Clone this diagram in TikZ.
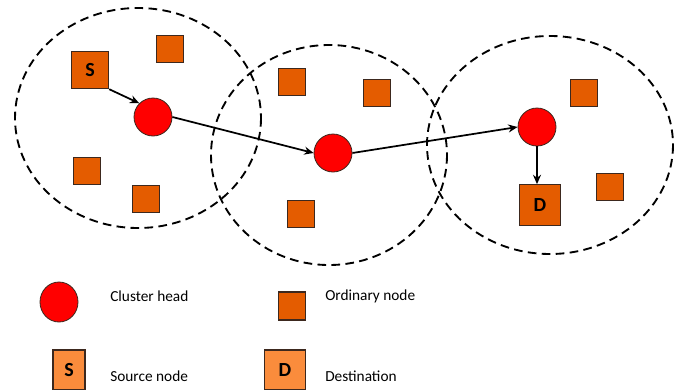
\documentclass[tikz,border=0pt]{standalone}
\usepackage{fontspec}
\setmainfont{Carlito}
\usetikzlibrary{arrows.meta,shapes.geometric}
\definecolor{ordcol}{RGB}{228,92,0}
\definecolor{legcol}{RGB}{250,140,60}
\definecolor{headcol}{RGB}{255,0,0}
\definecolor{edgecol}{RGB}{60,40,30}
\tikzset{
  cluster/.style={draw=black, line width=1.4pt, dash pattern=on 6.5pt off 4pt},
  head/.style={circle, draw=edgecol, line width=0.6pt, fill=headcol, minimum size=28.5pt, inner sep=0pt},
  ordnode/.style={rectangle, draw=edgecol, line width=0.8pt, fill=ordcol, minimum size=20pt, inner sep=0pt},
  endnode/.style={rectangle, draw=edgecol, line width=0.8pt, fill=ordcol, minimum size=28pt, inner sep=0pt, font=\fontsize{15}{15}\selectfont\bfseries},
  legend/.style={rectangle, draw=edgecol, line width=0.8pt, fill=legcol, inner sep=0pt, font=\fontsize{15}{15}\selectfont\bfseries},
  lbl/.style={anchor=west, inner sep=0pt, font=\fontsize{11.5}{13}\selectfont},
  flow/.style={draw=black, line width=1.3pt, -{Stealth[length=7pt,width=6pt]}}
}
\begin{document}
\begin{tikzpicture}[x=0.75pt,y=-0.75pt]
\useasboundingbox (0,0) rectangle (680,389);
% clusters
\draw[cluster] (138,118) ellipse [x radius=123, y radius=110];
\draw[cluster] (329,155) ellipse [x radius=118, y radius=110];
\draw[cluster] (550,145) ellipse [x radius=123, y radius=109];
% cluster heads
\node[head] (ch1) at (153,117) {};
\node[head] (ch2) at (333,153) {};
\node[head] (ch3) at (537,127) {};
% ordinary nodes
\node[ordnode] (o1) at (170,49) {};
\node[ordnode] (o2) at (87,171) {};
\node[ordnode] (o3) at (146,199) {};
\node[ordnode] (o4) at (292,82) {};
\node[ordnode] (o5) at (377,93) {};
\node[ordnode] (o6) at (301,214) {};
\node[ordnode] (o7) at (584,93) {};
\node[ordnode] (o8) at (610,187) {};
% source and destination
\node[endnode] (s) at (90,70) {S};
\node[endnode, minimum width=31pt, minimum height=30.5pt] (d) at (540,205) {D};
% flow
\draw[flow] (s.south east) -- (ch1.135);
\draw[flow] (ch1.east) -- (ch2.west);
\draw[flow] (ch2.east) -- (ch3.west);
\draw[flow] (ch3.south) -- (ch3.south |- d.north);
% legend
\node[head, ellipse, minimum width=28.5pt, minimum height=30pt] (lh) at (59,302) {};
\node[lbl] (lht) at (110,296) {Cluster head};
\node[ordnode, minimum width=20pt, minimum height=21pt] (lo) at (292,306) {};
\node[lbl] (lot) at (325,296) {Ordinary node};
\node[legend, minimum width=24pt, minimum height=30pt] (ls) at (69,370) {S};
\node[lbl] (lst) at (110,376) {Source node};
\node[legend, minimum width=31pt, minimum height=30pt] (ld) at (285,370) {D};
\node[lbl] (ldt) at (325,376) {Destination};
\end{tikzpicture}
\end{document}
